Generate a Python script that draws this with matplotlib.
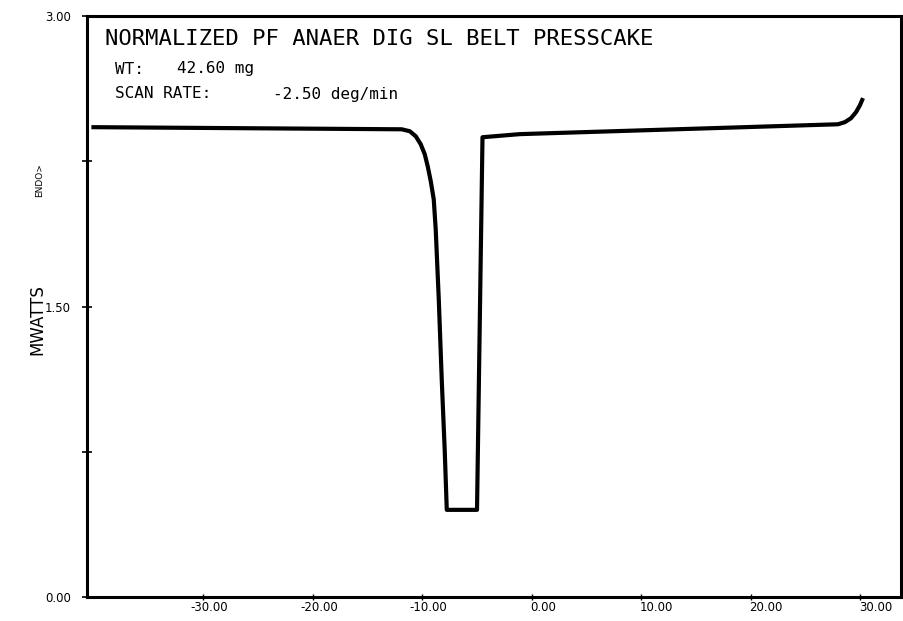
"""DSC scan of normalized PF anaerobic digested sludge presscake"""

import matplotlib
matplotlib.use("Agg")
import matplotlib.pyplot as plt
import matplotlib.transforms as mtransforms

# temperature [deg C] and heat flow [mW]
temperature = [-40.2, -11.87, -11.14, -10.59, -10.14, -9.77, -9.50, -9.22, -8.95,
               -8.77, -8.49, -8.22, -7.95, -7.76, -5.0, -4.5, -1.1,
               27.95, 28.58, 29.13, 29.59, 29.95, 30.23]
heat_flow = [2.426, 2.415, 2.405, 2.379, 2.338, 2.286, 2.224, 2.146, 2.053,
             1.898, 1.536, 1.122, 0.760, 0.45, 0.45, 2.374, 2.390,
             2.441, 2.452, 2.472, 2.503, 2.539, 2.576]

x_ticks = [-30, -20, -10, 0, 10, 20, 30]
y_ticks = [0.0, 0.75, 1.5, 2.25, 3.0]
y_labels = ["0.00", "", "1.50", "", "3.00"]

title = "NORMALIZED PF ANAER DIG SL BELT PRESSCAKE"
sample_wt = "42.60 mg"
scan_rate = "-2.50 deg/min"

PLOTTER = "DejaVu Sans Mono"


def main():
    fig = plt.figure(figsize=(9.04, 6.21), dpi=100)
    ax = fig.add_axes([87 / 904, 24 / 621, 814 / 904, 581 / 621])

    ax.plot(temperature, heat_flow, color="black", lw=3.0,
            solid_joinstyle="round", solid_capstyle="butt")

    ax.set_xlim(-40.6, 33.7)
    ax.set_ylim(0.0, 3.0)

    for side in ax.spines.values():
        side.set_linewidth(2.2)

    ax.set_yticks(y_ticks)
    ax.set_yticklabels(y_labels, fontsize=8.5)
    ax.tick_params(axis="y", direction="inout", length=7, width=1.2, pad=8)

    ax.set_xticks(x_ticks)
    ax.set_xticklabels([f"{v:.2f}" for v in x_ticks], fontsize=8.5)
    ax.tick_params(axis="x", direction="inout", length=4, width=1.0, pad=1)
    # labels start at the tick, minus sign hangs to the left
    for v, lab in zip(x_ticks, ax.get_xticklabels()):
        lab.set_horizontalalignment("left")
        shift = -9 / 72 if v < 0 else -1 / 72
        lab.set_transform(lab.get_transform() +
                          mtransforms.ScaledTranslation(shift, 0, fig.dpi_scale_trans))

    fig.text(37 / 904, 1 - 320 / 621, "MWATTS", rotation=90, fontsize=12,
             ha="center", va="center")
    fig.text(40 / 904, 1 - 180 / 621, "ENDO>", rotation=90, fontsize=6.5,
             ha="center", va="center")

    fig.text(105 / 904, 1 - 39 / 621, title, fontsize=16, family=PLOTTER,
             ha="left", va="center")
    fig.text(115 / 904, 1 - 69 / 621, "WT:", fontsize=11.5, family=PLOTTER,
             ha="left", va="center")
    fig.text(177 / 904, 1 - 69 / 621, sample_wt, fontsize=11.5, family=PLOTTER,
             ha="left", va="center")
    fig.text(115 / 904, 1 - 94 / 621, "SCAN RATE:", fontsize=11.5, family=PLOTTER,
             ha="left", va="center")
    fig.text(273 / 904, 1 - 94 / 621, scan_rate, fontsize=11.5, family=PLOTTER,
             ha="left", va="center")

    fig.savefig("out.png", dpi=100)


if __name__ == "__main__":
    main()
